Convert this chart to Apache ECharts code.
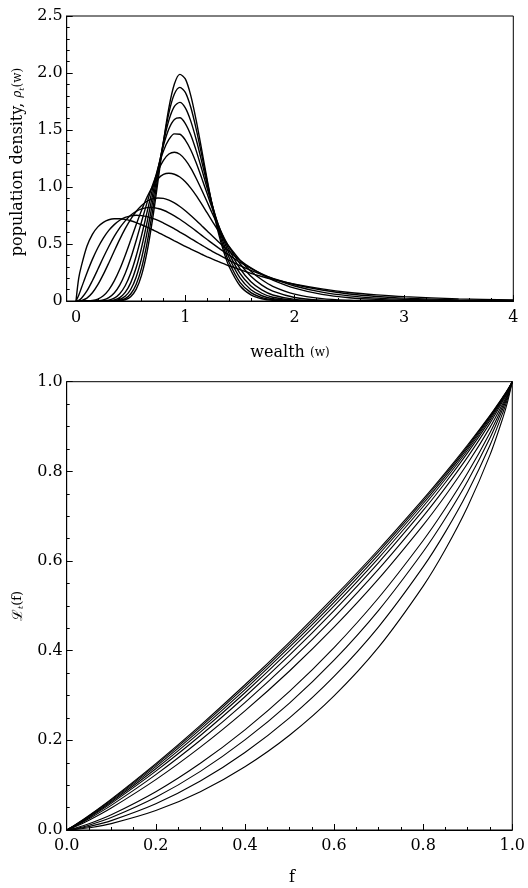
<!DOCTYPE html>
<html>
<head>
<meta charset="utf-8">
<script src="https://cdn.jsdelivr.net/npm/echarts@6.0.0/dist/echarts.min.js"></script>
<style>
html,body{margin:0;padding:0;background:#fff;}
#chart{width:528px;height:888px;}
</style>
</head>
<body>
<div id="chart"></div>
<script>
// ---------- top panel: population density rho_t(w) ----------
const densX = [0, 0.025, 0.05, 0.1, 0.15, 0.2, 0.25, 0.3, 0.35, 0.4, 0.45, 0.5, 0.55, 0.6, 0.65, 0.7, 0.75, 0.8, 0.85, 0.9, 0.95, 1.0, 1.05, 1.1, 1.15, 1.2, 1.25, 1.3, 1.35, 1.4, 1.5, 1.6, 1.7, 1.8, 2.0, 2.25, 2.5, 2.75, 3.0, 3.5, 4.0];

const dens0 = [0,0,0,0,0,0,0,0,0.0004,0.0025,0.011,0.038,0.102,0.227,0.431,0.714,1.051,1.397,1.697,1.903,1.988,1.948,1.802,1.582,1.325,1.062,0.818,0.607,0.436,0.303,0.134,0.054,0.020,0.007,0.001,0,0,0,0,0,0];
const dens1 = [0,0,0,0,0,0,0,0,0.001,0.006,0.021,0.061,0.145,0.291,0.508,0.786,1.098,1.400,1.651,1.815,1.874,1.830,1.699,1.506,1.281,1.048,0.828,0.634,0.471,0.340,0.164,0.073,0.030,0.011,0.001,0,0,0,0,0,0];
const dens2 = [0,0,0,0,0,0,0,0.0006,0.003,0.013,0.041,0.101,0.209,0.376,0.599,0.863,1.138,1.390,1.587,1.707,1.742,1.694,1.578,1.414,1.223,1.024,0.831,0.657,0.506,0.381,0.202,0.099,0.046,0.020,0.003,0.0003,0,0,0,0,0];
const dens3 = [0,0,0,0,0,0,0.0003,0.002,0.009,0.030,0.075,0.159,0.291,0.471,0.690,0.929,1.162,1.363,1.511,1.593,1.607,1.557,1.456,1.317,1.157,0.988,0.824,0.671,0.535,0.418,0.242,0.132,0.068,0.033,0.007,0.001,0,0,0,0,0];
const dens4 = [0,0,0,0,0,0.0002,0.002,0.008,0.025,0.064,0.134,0.243,0.393,0.576,0.779,0.982,1.167,1.316,1.417,1.466,1.463,1.412,1.325,1.210,1.078,0.940,0.803,0.674,0.555,0.450,0.284,0.169,0.097,0.053,0.014,0.002,0.0003,0,0,0,0];
const dens5 = [0,0,0,0,0.0003,0.002,0.010,0.030,0.070,0.139,0.241,0.373,0.529,0.697,0.863,1.015,1.141,1.234,1.289,1.305,1.287,1.238,1.166,1.075,0.974,0.868,0.761,0.659,0.563,0.475,0.327,0.217,0.139,0.086,0.031,0.007,0.002,0.0003,0.0001,0,0];
const dens6 = [0,0,0,0.0005,0.004,0.017,0.046,0.098,0.176,0.278,0.400,0.533,0.669,0.797,0.911,1.004,1.072,1.110,1.120,1.112,1.088,1.046,0.990,0.924,0.850,0.772,0.695,0.619,0.546,0.478,0.358,0.261,0.186,0.129,0.060,0.021,0.007,0.002,0.0006,0,0];
const dens7 = [0,0.0005,0.004,0.025,0.072,0.143,0.233,0.334,0.439,0.541,0.635,0.717,0.785,0.838,0.875,0.896,0.904,0.900,0.885,0.861,0.829,0.792,0.750,0.706,0.660,0.614,0.567,0.522,0.478,0.436,0.358,0.290,0.233,0.184,0.113,0.058,0.029,0.014,0.007,0.001,0.0003];
const dens8 = [0,0.006,0.024,0.088,0.178,0.278,0.381,0.478,0.566,0.641,0.703,0.752,0.786,0.808,0.819,0.820,0.811,0.796,0.774,0.747,0.717,0.684,0.649,0.613,0.576,0.539,0.503,0.468,0.434,0.401,0.340,0.286,0.238,0.197,0.132,0.078,0.045,0.025,0.014,0.004,0.001];
const dens9 = [0,0.051,0.116,0.246,0.365,0.467,0.551,0.619,0.670,0.708,0.733,0.747,0.752,0.749,0.740,0.725,0.707,0.684,0.660,0.633,0.605,0.577,0.548,0.519,0.490,0.462,0.434,0.408,0.382,0.357,0.311,0.269,0.232,0.199,0.145,0.096,0.062,0.040,0.025,0.010,0.004];
const dens10 = [0,0.20,0.31,0.48,0.585,0.650,0.690,0.713,0.722,0.722,0.716,0.704,0.688,0.669,0.648,0.625,0.602,0.577,0.553,0.528,0.504,0.479,0.456,0.433,0.410,0.388,0.367,0.347,0.328,0.309,0.275,0.243,0.215,0.190,0.147,0.106,0.075,0.054,0.038,0.019,0.009];

const densCurves = [dens0, dens1, dens2, dens3, dens4, dens5, dens6, dens7, dens8, dens9, dens10];

const densMajorTicks = [0, 1, 2, 3, 4];
const densMinorTicks = [0.2, 0.4, 0.6, 0.8, 1.2, 1.4, 1.6, 1.8, 2.2, 2.4, 2.6, 2.8, 3.2, 3.4, 3.6, 3.8];

// ---------- bottom panel: Lorenz curves L_t(f) ----------
const lorF = [0, 0.02, 0.05, 0.1, 0.2, 0.3, 0.4, 0.5, 0.6, 0.7, 0.8, 0.85, 0.9, 0.95, 0.98, 0.99, 1];

const lor0 = [0,0.0121,0.0324,0.0689,0.1482,0.2335,0.3240,0.4193,0.5198,0.6257,0.7380,0.7972,0.8593,0.9250,0.9677,0.9830,1];
const lor1 = [0,0.0117,0.0315,0.0671,0.1453,0.2296,0.3194,0.4143,0.5146,0.6208,0.7338,0.7936,0.8563,0.9232,0.9667,0.9825,1];
const lor2 = [0,0.0111,0.0303,0.0650,0.1414,0.2245,0.3133,0.4078,0.5078,0.6144,0.7283,0.7889,0.8524,0.9208,0.9655,0.9818,1];
const lor3 = [0,0.0105,0.0288,0.0626,0.1367,0.2184,0.3061,0.3999,0.4998,0.6066,0.7216,0.7829,0.8477,0.9178,0.9641,0.9808,1];
const lor4 = [0,0.0099,0.0273,0.0595,0.1313,0.2108,0.2973,0.3900,0.4896,0.5966,0.7128,0.7752,0.8418,0.9137,0.9618,0.9795,1];
const lor5 = [0,0.0089,0.0250,0.0549,0.1234,0.2001,0.2842,0.3754,0.4743,0.5818,0.6996,0.7636,0.8322,0.9075,0.9585,0.9777,1];
const lor6 = [0,0.0077,0.0219,0.0492,0.1124,0.1848,0.2658,0.3547,0.4524,0.5601,0.6801,0.7462,0.8181,0.8981,0.9535,0.9745,1];
const lor7 = [0,0.0043,0.0138,0.0339,0.0854,0.1489,0.2235,0.3091,0.4069,0.5181,0.6458,0.7176,0.7967,0.8863,0.9484,0.9721,1];
const lor8 = [0,0.0032,0.0108,0.0277,0.0730,0.1308,0.2009,0.2831,0.3788,0.4901,0.6207,0.6954,0.7787,0.8745,0.9425,0.9686,1];
const lor9 = [0,0.0021,0.0077,0.0209,0.0584,0.1091,0.1728,0.2500,0.3425,0.4532,0.5868,0.6650,0.7540,0.8583,0.9342,0.9639,1];
const lor10 = [0,0.0012,0.0049,0.0142,0.0433,0.0855,0.1411,0.2114,0.2992,0.4079,0.5441,0.6262,0.7216,0.8367,0.9227,0.9572,1];

const lorCurves = [lor0, lor1, lor2, lor3, lor4, lor5, lor6, lor7, lor8, lor9, lor10];

// ---------- texts ----------
const topXName = 'wealth';
const topXNameSub = '(w)';
const topYName = 'population density, ';
const botXName = 'f';

const FONT = 'DejaVu Serif';
const INK = '#000';

const series = [];
densCurves.forEach((ys) => {
  series.push({
    type: 'line', xAxisIndex: 0, yAxisIndex: 0,
    data: densX.map((x, j) => [x, ys[j]]),
    showSymbol: false, smooth: 0.3,
    lineStyle: { color: INK, width: 1.4 }, silent: true, z: 3
  });
});
lorCurves.forEach((ys) => {
  series.push({
    type: 'line', xAxisIndex: 2, yAxisIndex: 1,
    data: lorF.map((x, j) => [x, ys[j]]),
    showSymbol: false, smooth: 0.3,
    lineStyle: { color: INK, width: 1.1 }, silent: true, z: 3
  });
});

const tickLabel = { color: INK, fontFamily: FONT, fontSize: 16 };

const option = {
  animation: false,
  backgroundColor: '#fff',
  grid: [
    { left: 66.7, top: 16, width: 446.6, height: 285, show: true, borderColor: INK, borderWidth: 1, backgroundColor: 'transparent' },
    { left: 66.7, top: 381.7, width: 450, height: 448.3, show: true, borderColor: INK, borderWidth: 1, backgroundColor: 'transparent' }
  ],
  xAxis: [
    {
      gridIndex: 0, type: 'value', min: -0.085, max: 4, position: 'bottom',
      axisLine: { show: true, onZero: false, lineStyle: { color: INK, width: 1 } },
      axisTick: { show: true, inside: true, length: 6, customValues: densMajorTicks, lineStyle: { color: INK, width: 1 } },
      axisLabel: Object.assign({ customValues: densMajorTicks, margin: 9, formatter: v => String(v) }, tickLabel),
      splitLine: { show: false }
    },
    {
      gridIndex: 0, type: 'value', min: -0.085, max: 4, position: 'bottom',
      axisLine: { show: false, onZero: false },
      axisTick: { show: true, inside: true, length: 3, customValues: densMinorTicks, lineStyle: { color: INK, width: 1 } },
      axisLabel: { show: false },
      splitLine: { show: false }
    },
    {
      gridIndex: 1, type: 'value', min: 0, max: 1, interval: 0.2, position: 'bottom',
      axisLine: { show: true, onZero: false, lineStyle: { color: INK, width: 1 } },
      axisTick: { show: true, inside: true, length: 6, lineStyle: { color: INK, width: 1 } },
      minorTick: { show: true, splitNumber: 4, length: 3, lineStyle: { color: INK, width: 1 } },
      axisLabel: Object.assign({ margin: 8, formatter: v => v.toFixed(1) }, tickLabel),
      splitLine: { show: false }, minorSplitLine: { show: false }
    }
  ],
  yAxis: [
    {
      gridIndex: 0, type: 'value', min: 0, max: 2.5, interval: 0.5,
      axisLine: { show: true, onZero: false, lineStyle: { color: INK, width: 1 } },
      axisTick: { show: true, inside: true, length: 6, lineStyle: { color: INK, width: 1 } },
      minorTick: { show: true, splitNumber: 5, length: 3, lineStyle: { color: INK, width: 1 } },
      axisLabel: Object.assign({ margin: 4, formatter: v => (v === 0 ? '0' : v.toFixed(1)) }, tickLabel),
      splitLine: { show: false }, minorSplitLine: { show: false }
    },
    {
      gridIndex: 1, type: 'value', min: 0, max: 1, interval: 0.2,
      axisLine: { show: true, onZero: false, lineStyle: { color: INK, width: 1 } },
      axisTick: { show: true, inside: true, length: 6, lineStyle: { color: INK, width: 1 } },
      minorTick: { show: true, splitNumber: 4, length: 3, lineStyle: { color: INK, width: 1 } },
      axisLabel: Object.assign({ margin: 4, formatter: v => v.toFixed(1) }, tickLabel),
      splitLine: { show: false }, minorSplitLine: { show: false }
    }
  ],
  graphic: [
    {
      type: 'text', x: 290, y: 353, silent: true,
      style: {
        text: '{a|' + topXName + ' }{b|' + topXNameSub + '}',
        align: 'center', verticalAlign: 'middle', textAlign: 'center', textVerticalAlign: 'middle',
        fill: INK,
        rich: {
          a: { fontFamily: FONT, fontSize: 16, fill: INK, color: INK },
          b: { fontFamily: FONT, fontSize: 12, fill: INK, color: INK }
        }
      }
    },
    {
      type: 'text', x: 18, y: 162, rotation: Math.PI / 2, silent: true,
      style: {
        text: '{a|' + topYName + '}{i|ρ}{s|t}{b|(w)}',
        align: 'center', verticalAlign: 'middle', textAlign: 'center', textVerticalAlign: 'middle',
        fill: INK,
        rich: {
          a: { fontFamily: FONT, fontSize: 16, fill: INK, color: INK, verticalAlign: 'middle' },
          i: { fontFamily: FONT, fontSize: 12, fontStyle: 'italic', fill: INK, color: INK, verticalAlign: 'middle' },
          s: { fontFamily: FONT, fontSize: 8, fontStyle: 'italic', fill: INK, color: INK, verticalAlign: 'bottom', padding: [6, 0, 0, 0] },
          b: { fontFamily: FONT, fontSize: 12, fill: INK, color: INK, verticalAlign: 'middle' }
        }
      }
    },
    {
      type: 'text', x: 292, y: 878, silent: true,
      style: {
        text: botXName, fontFamily: FONT, fontSize: 16, fill: INK,
        align: 'center', verticalAlign: 'middle', textAlign: 'center', textVerticalAlign: 'middle'
      }
    },
    {
      type: 'text', x: 18, y: 606, rotation: Math.PI / 2, silent: true,
      style: {
        text: '{i|ℒ}{s|t}{b|(f)}',
        align: 'center', verticalAlign: 'middle', textAlign: 'center', textVerticalAlign: 'middle',
        fill: INK,
        rich: {
          i: { fontFamily: FONT, fontSize: 14, fill: INK, color: INK, verticalAlign: 'middle' },
          s: { fontFamily: FONT, fontSize: 8, fontStyle: 'italic', fill: INK, color: INK, verticalAlign: 'bottom', padding: [6, 0, 0, 0] },
          b: { fontFamily: FONT, fontSize: 13, fill: INK, color: INK, verticalAlign: 'middle' }
        }
      }
    }
  ],
  series: series
};

const chart = echarts.init(document.getElementById('chart'), null, { renderer: 'canvas', width: 528, height: 888 });
chart.setOption(option);
</script>
</body>
</html>
